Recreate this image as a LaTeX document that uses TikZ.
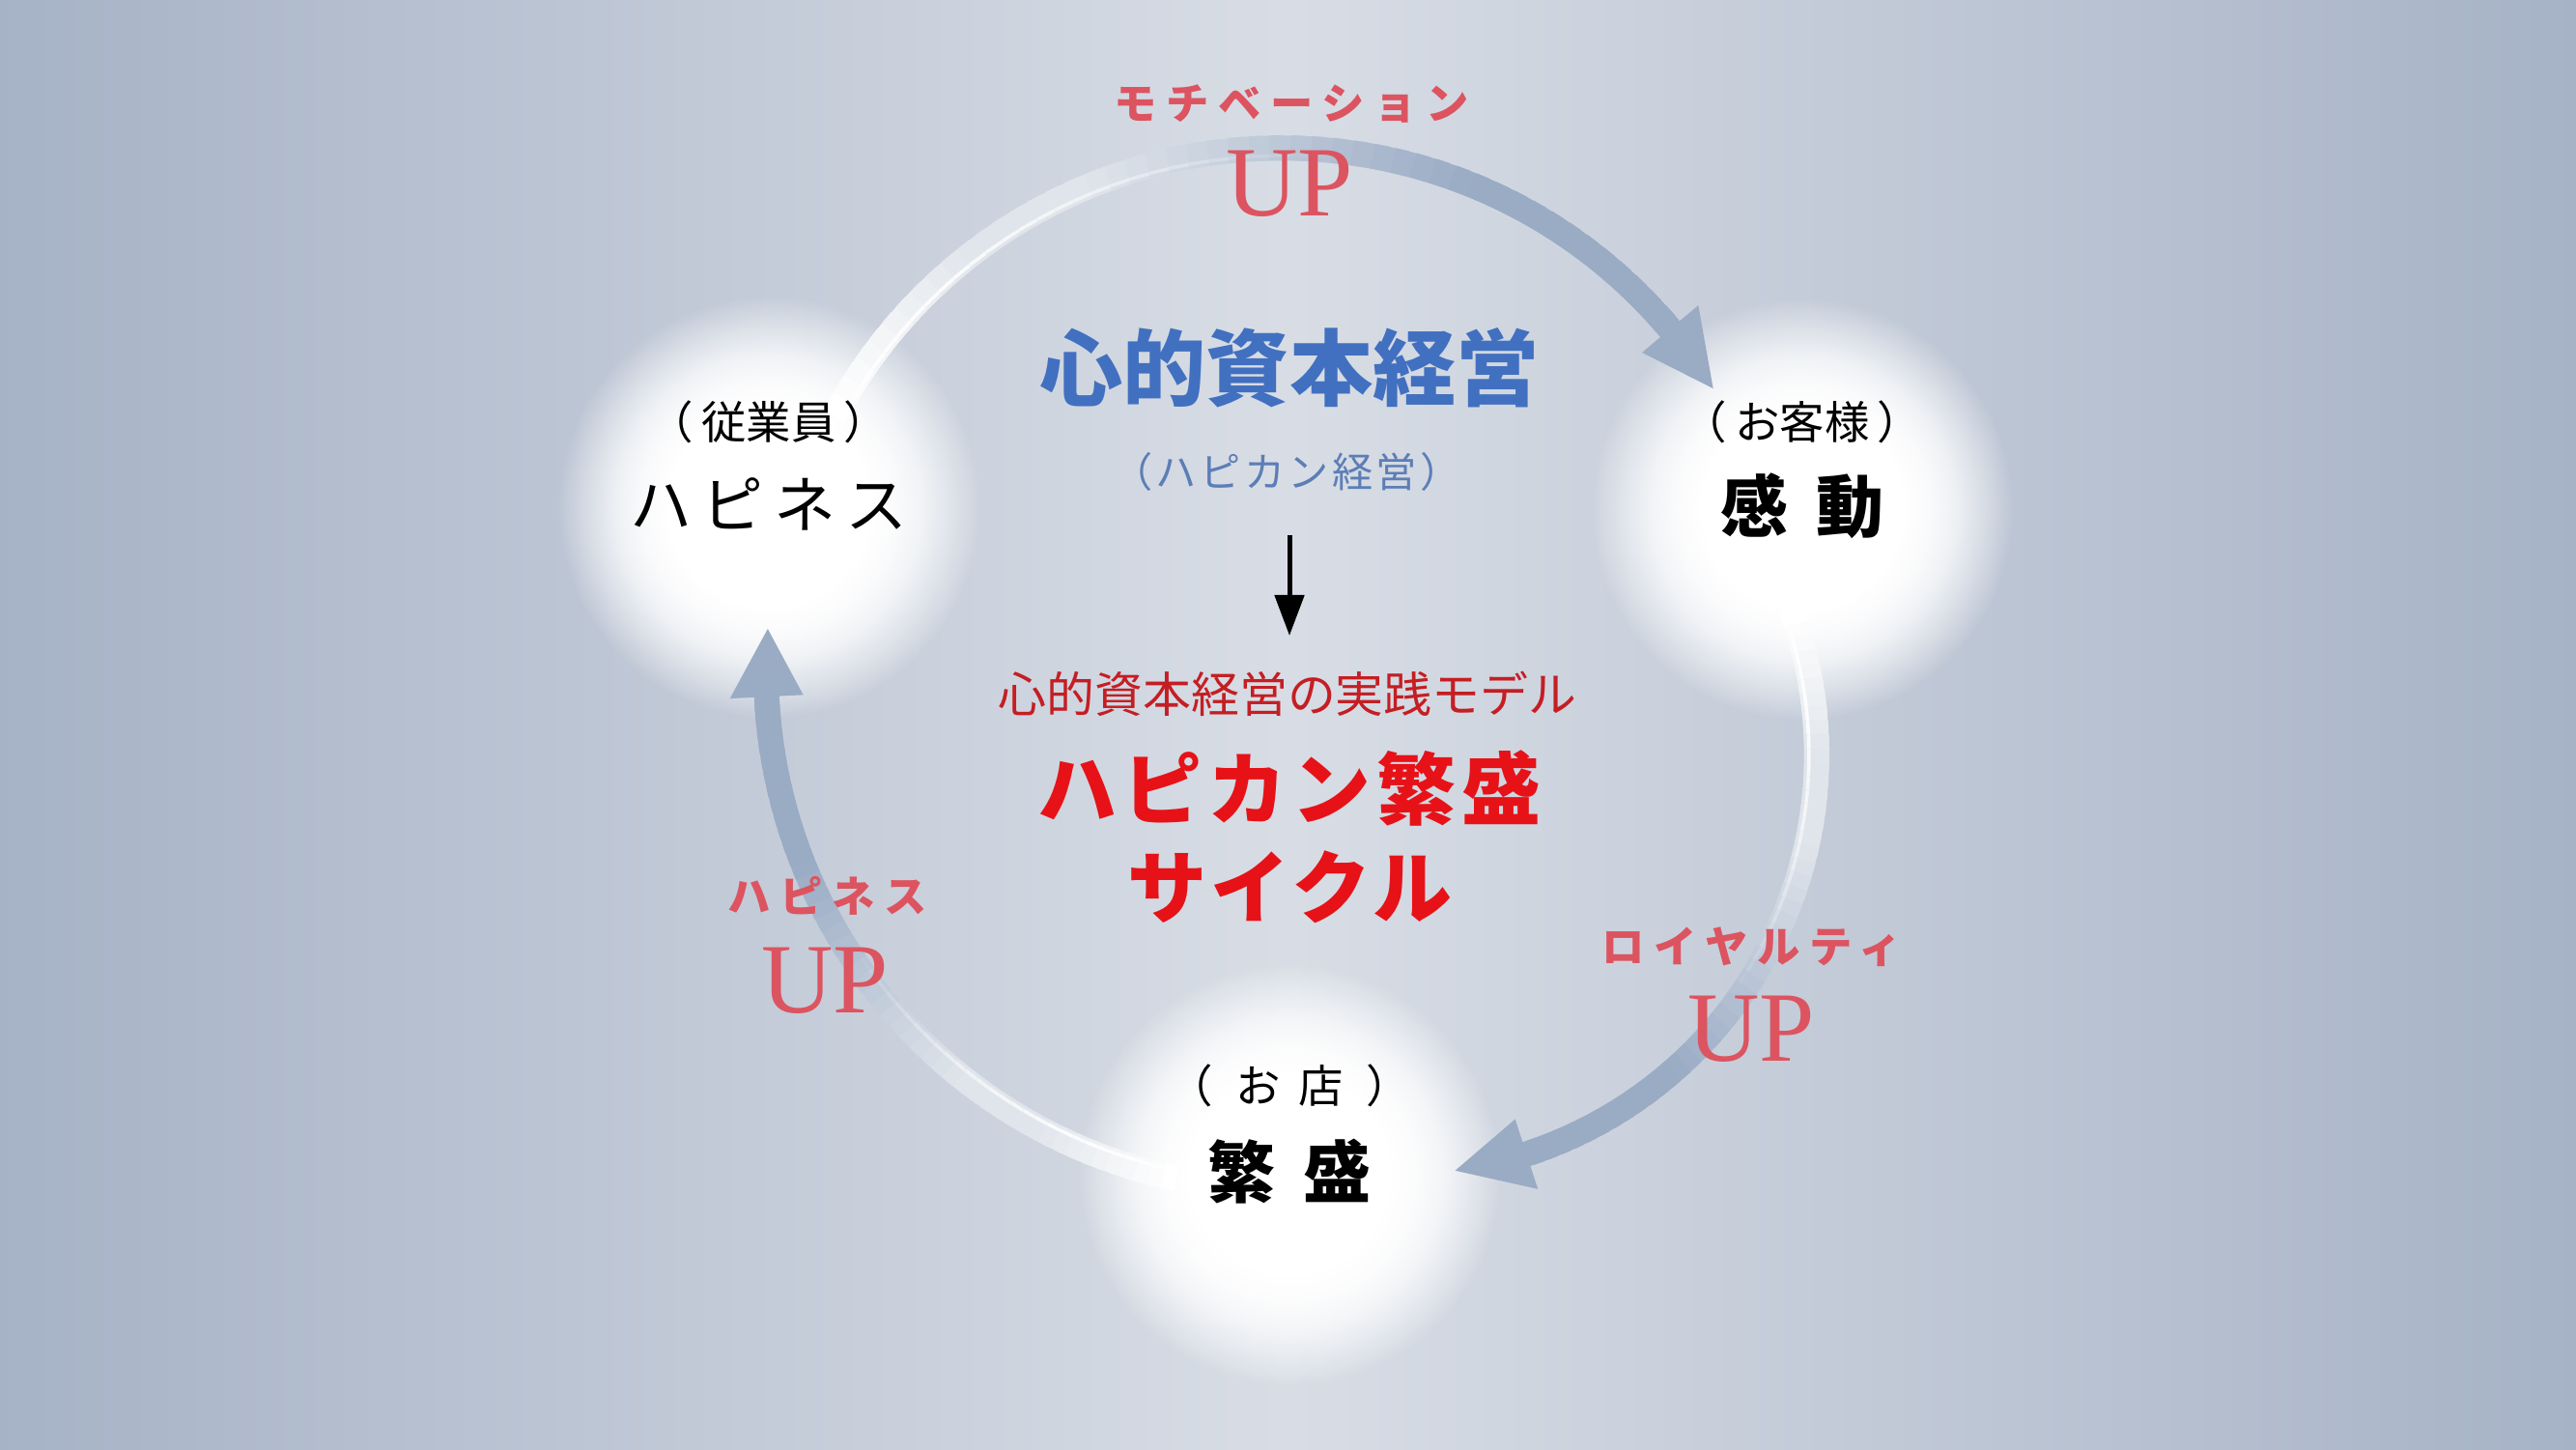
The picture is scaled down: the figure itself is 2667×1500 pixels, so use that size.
\documentclass[tikz,border=0pt]{standalone}
\usepackage{fontspec}
\usetikzlibrary{fadings,arrows.meta}
\newfontfamily\jp{Noto Sans CJK JP}
\newfontfamily\upf{Liberation Serif}
\definecolor{bgedge}{HTML}{A6B2C6}
\definecolor{bgmid}{HTML}{D8DDE5}
\definecolor{arrowblue}{HTML}{9AABC4}
\definecolor{arrowwhite}{HTML}{E0E5EB}
\definecolor{labelred}{RGB}{220,84,96}
\definecolor{mainred}{RGB}{230,18,24}
\definecolor{subred}{RGB}{196,30,35}
\definecolor{titleblue}{RGB}{66,112,192}
\definecolor{subblue}{RGB}{92,126,182}
\pgfdeclareradialshading{glowshade}{\pgfpointorigin}{color(0bp)=(pgftransparent!0); color(12bp)=(pgftransparent!0); color(15bp)=(pgftransparent!8); color(18bp)=(pgftransparent!25); color(21bp)=(pgftransparent!55); color(23.5bp)=(pgftransparent!82); color(25bp)=(pgftransparent!100); color(50bp)=(pgftransparent!100)}
\pgfdeclarefading{glowfade}{\pgfuseshading{glowshade}}
% #1 cx, #2 cy, #3 R, #4 start angle, #5 head base angle, #6 tip angle
\newcommand{\cyclearrow}[6]{%
  \begin{scope}[shift={(#1,#2)}]
    \foreach \i in {0,...,47}{
      \pgfmathsetmacro{\sega}{#4+(#5-#4)*\i/48}
      \pgfmathsetmacro{\segb}{#4+(#5-#4)*min(\i+1.7,48.5)/48}
      \pgfmathsetmacro{\segt}{\i/47}
      \pgfmathsetmacro{\segpw}{max(0,min(100,(0.22-\segt)*450))}
      \pgfmathsetmacro{\segpb}{max(0,min(100,(\segt-0.35)*250))}
      \pgfmathsetmacro{\seghl}{max(0,min(85,(0.6-\segt)*200))}
      \colorlet{segw}{white!\segpw!arrowwhite}
      \colorlet{segc}{arrowblue!\segpb!segw}
      \colorlet{segh}{white!\seghl!segc}
      \draw[line width=0.26cm, segc] (\sega:#3) -- (\segb:#3);
      \draw[line width=0.035cm, segh] (\sega:{#3-8}) -- (\segb:{#3-8});
    }
    \fill[arrowblue] (#6:#3) -- (#5:{#3+38}) -- (#5:{#3-38}) -- cycle;
  \end{scope}}
\tikzset{
  txt/.style={inner sep=0pt, anchor=center},
  glow/.style={white, path fading=glowfade},
  redlbl/.style={txt, text=labelred, font=\jp\bfseries\fontsize{12.6pt}{14pt}\selectfont\addfontfeature{LetterSpace=22}},
  uplbl/.style={txt, text=labelred, font=\upf\fontsize{29.3pt}{30pt}\selectfont},
  paren/.style={txt, text=black, font=\jp\fontsize{13.2pt}{14pt}\selectfont},
  bigblack/.style={txt, text=black, font=\jp\bfseries\fontsize{19.9pt}{21pt}\selectfont},
}
\begin{document}
\begin{tikzpicture}[x=0.01cm, y=0.01cm]
\useasboundingbox (0,0) rectangle (2667,1500);
\shade[left color=bgedge, right color=bgedge, middle color=bgmid] (0,0) rectangle (2667,1500);

% glows
\fill[glow] (796,975) circle[radius=2.18cm];
\fill[glow] (1866,973) circle[radius=2.18cm];
\fill[glow] (1335,284) circle[radius=2.18cm];

% cycle arrows
\cyclearrow{1327}{822}{525}{152}{40}{31.7}
\cyclearrow{1446}{719}{435}{20}{-72}{-82}
\cyclearrow{1330}{805}{537}{258}{182.8}{175.3}

% centre texts
\node[txt, text=titleblue, font=\jp\bfseries\fontsize{24.5pt}{26pt}\selectfont] (title) at (1335,1119) {心的資本経営};
\node[txt, text=subblue, font=\jp\fontsize{12pt}{13pt}\selectfont\addfontfeature{LetterSpace=8}] (subtitle) at (1332,1012) {（ハピカン経営）};
\coordinate (ka) at (1335,946);
\coordinate (kb) at (1335,842);
\draw[line width=0.05cm, -{Triangle[length=0.42cm, width=0.3cm]}] (ka) -- (kb);
\node[txt, text=subred, font=\jp\fontsize{14.2pt}{15pt}\selectfont] (model) at (1333,782) {心的資本経営の実践モデル};
\node[txt, text=mainred, font=\jp\bfseries\fontsize{23.3pt}{24pt}\selectfont\addfontfeature{LetterSpace=7}] (cycle1) at (1335,684) {ハピカン繁盛};
\node[txt, text=mainred, font=\jp\bfseries\fontsize{23.3pt}{24pt}\selectfont\addfontfeature{LetterSpace=5}] (cycle2) at (1335,582) {サイクル};

% circle texts
\node[paren] (emp) at (796,1063) {（\hspace{0.08cm}従業員\hspace{0.08cm}）};
\node[txt, text=black, font=\jp\fontsize{18.2pt}{19pt}\selectfont\addfontfeature{LetterSpace=16}] (happy) at (796,978) {ハピネス};
\node[paren] (cust) at (1866,1063) {（\hspace{0.08cm}お客様\hspace{0.08cm}）};
\node[bigblack] (kando) at (1866,976) {感\hspace{0.3cm}動};
\node[paren] (shop) at (1335,376) {（\hspace{0.24cm}お\hspace{0.18cm}店\hspace{0.24cm}）};
\node[bigblack] (hanjo) at (1335,287) {繁\hspace{0.3cm}盛};

% arrow labels
\node[redlbl] (motiv) at (1337,1393) {モチベーション};
\node[uplbl] (up1) at (1335,1310) {UP};
\node[redlbl] (happyup) at (857,573) {ハピネス};
\node[uplbl] (up2) at (854,485) {UP};
\node[redlbl] (loyal) at (1814,520) {ロイヤルティ};
\node[uplbl] (up3) at (1813,435) {UP};
\end{tikzpicture}
\end{document}
